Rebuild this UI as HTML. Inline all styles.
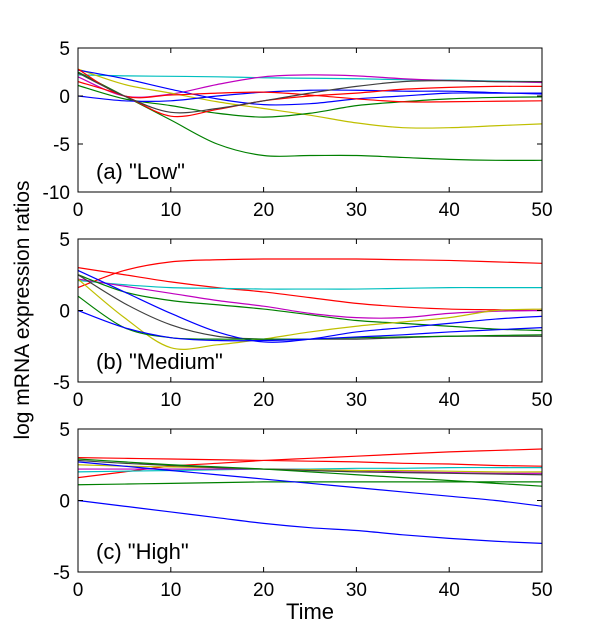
<!DOCTYPE html>
<html><head><meta charset="utf-8"><style>
body{margin:0;background:#fff;}
svg{display:block;font-family:"Liberation Sans",sans-serif;}
</style></head><body>
<svg id="chart" width="600" height="644"></svg>
<script>
const times=[0,5,10,15,20,25,30,35,40,45,50];
const xTicks=[0,10,20,30,40,50];
const panelLabels=['(a) "Low"','(b) "Medium"','(c) "High"'];
const yTicks1=[5,0,-5,-10], yTicks2=[5,0,-5], yTicks3=[5,0,-5];
const low=[
 ['#00bfbf',[2.2,2.1,2.05,2.0,1.9,1.85,1.8,1.7,1.65,1.55,1.5]],
 ['#bf00bf',[2.0,0.0,0.2,1.2,2.0,2.2,2.1,1.8,1.6,1.5,1.4]],
 ['#bfbf00',[2.8,1.2,0.3,-0.6,-1.3,-2.0,-2.8,-3.3,-3.3,-3.1,-2.9]],
 ['#008000',[2.5,0.0,-2.5,-5.0,-6.2,-6.2,-6.2,-6.4,-6.6,-6.7,-6.7]],
 ['#008000',[1.1,-0.3,-1.0,-1.8,-2.2,-1.8,-1.0,-0.6,-0.3,-0.15,-0.1]],
 ['#0000ff',[2.7,1.8,0.7,-0.3,-0.9,-0.8,-0.3,0.0,0.3,0.3,0.3]],
 ['#0000ff',[0.0,-0.5,-0.5,0.0,0.4,0.6,0.6,0.5,0.5,0.35,0.2]],
 ['#ff0000',[1.5,0.0,-2.1,-1.4,-0.5,0.0,0.3,0.7,0.9,1.0,1.0]],
 ['#ff0000',[2.8,0.0,0.1,0.3,0.4,0.1,-0.3,-0.6,-0.6,-0.55,-0.5]],
 ['#404040',[2.4,0.0,-1.7,-1.3,-0.5,0.3,1.0,1.5,1.6,1.5,1.5]]
];
const medium=[
 ['#ff0000',[1.6,2.8,3.4,3.55,3.6,3.6,3.6,3.55,3.5,3.4,3.3]],
 ['#ff0000',[3.0,2.5,2.0,1.6,1.3,0.9,0.5,0.25,0.1,0.05,0.0]],
 ['#00bfbf',[2.1,1.8,1.6,1.55,1.5,1.5,1.5,1.55,1.6,1.6,1.6]],
 ['#bf00bf',[2.2,1.7,1.2,0.7,0.3,-0.2,-0.5,-0.5,-0.2,-0.05,0.0]],
 ['#008000',[2.5,1.3,0.7,0.4,0.1,-0.3,-0.7,-0.9,-1.1,-1.3,-1.4]],
 ['#bfbf00',[2.2,-0.5,-2.6,-2.4,-2.0,-1.5,-1.1,-0.8,-0.5,0.0,0.1]],
 ['#404040',[2.5,0.5,-1.0,-1.8,-2.0,-2.0,-2.0,-1.9,-1.8,-1.8,-1.8]],
 ['#0000ff',[2.8,1.3,-0.2,-1.5,-2.2,-2.0,-1.5,-1.2,-0.9,-0.6,-0.4]],
 ['#008000',[1.0,-1.2,-1.9,-2.0,-2.0,-2.0,-1.9,-1.85,-1.8,-1.75,-1.7]],
 ['#0000ff',[0.0,-1.2,-1.9,-2.1,-2.1,-2.0,-1.85,-1.7,-1.5,-1.35,-1.2]]
];
const high=[
 ['#ff0000',[1.6,2.0,2.4,2.6,2.8,2.95,3.1,3.25,3.4,3.5,3.6]],
 ['#ff0000',[3.0,2.95,2.9,2.85,2.8,2.75,2.7,2.6,2.55,2.45,2.4]],
 ['#00bfbf',[2.0,2.05,2.1,2.15,2.2,2.2,2.25,2.25,2.3,2.3,2.3]],
 ['#bf00bf',[2.2,2.2,2.2,2.2,2.2,2.15,2.1,2.0,1.95,1.9,1.9]],
 ['#bfbf00',[2.5,2.4,2.35,2.3,2.2,2.15,2.1,2.1,2.05,2.0,2.0]],
 ['#404040',[2.8,2.6,2.45,2.3,2.2,2.1,2.0,1.95,1.9,1.85,1.8]],
 ['#008000',[2.9,2.7,2.5,2.35,2.2,2.0,1.8,1.6,1.4,1.2,1.0]],
 ['#008000',[1.1,1.15,1.2,1.25,1.3,1.3,1.3,1.3,1.3,1.3,1.3]],
 ['#0000ff',[2.7,2.4,2.1,1.8,1.5,1.2,0.9,0.6,0.3,0.0,-0.4]],
 ['#0000ff',[0.0,-0.4,-0.8,-1.2,-1.6,-1.9,-2.1,-2.4,-2.65,-2.85,-3.0]]
];
const NS='http://www.w3.org/2000/svg';
const svg=document.getElementById('chart');
function mk(t,a,p){const e=document.createElementNS(NS,t);for(const k in a)e.setAttribute(k,a[k]);(p||svg).appendChild(e);return e;}
const X0=78,X1=542;
const xs=v=>X0+(v-0)/50*(X1-X0);
const panels=[
 {top:48,bot:192,ymin:-10,ymax:5,ticks:yTicks1,data:low,name:'low'},
 {top:239,bot:382,ymin:-5,ymax:5,ticks:yTicks2,data:medium,name:'medium'},
 {top:429,bot:572,ymin:-5,ymax:5,ticks:yTicks3,data:high,name:'high'}
];
panels.forEach((p,pi)=>{
 const g=mk('g',{});
 
 
 const ys=v=>p.bot-(v-p.ymin)/(p.ymax-p.ymin)*(p.bot-p.top);
 const cp=mk('clipPath',{id:'c'+pi},g);
 mk('rect',{x:X0,y:p.top,width:X1-X0,height:p.bot-p.top},cp);
 p.data.forEach((s,si)=>{
  const pts=times.map((t,i)=>[xs(t),ys(s[1][i])]);
  let d='M'+pts[0][0]+','+pts[0][1];
  for(let i=0;i<pts.length-1;i++){
   const p0=pts[Math.max(i-1,0)],p1=pts[i],p2=pts[i+1],p3=pts[Math.min(i+2,pts.length-1)];
   d+=' C'+(p1[0]+(p2[0]-p0[0])/6)+','+(p1[1]+(p2[1]-p0[1])/6)+' '+(p2[0]-(p3[0]-p1[0])/6)+','+(p2[1]-(p3[1]-p1[1])/6)+' '+p2[0]+','+p2[1];
  }
  const path=mk('path',{d:d,fill:'none',stroke:s[0],'stroke-width':1.2,'clip-path':'url(#c'+pi+')'},g);
  
  
 });
 const fr=mk('rect',{x:X0,y:p.top,width:X1-X0,height:p.bot-p.top,fill:'none',stroke:'#000','stroke-width':1},g);
 
 
 xTicks.forEach(t=>{
  const x=xs(t);
  mk('line',{x1:x,x2:x,y1:p.bot,y2:p.bot-5,stroke:'#000'},g);
  mk('line',{x1:x,x2:x,y1:p.top,y2:p.top+5,stroke:'#000'},g);
  const tx=mk('text',{x:x,y:p.bot+24,'font-size':19,'text-anchor':'middle'},g);
  tx.textContent=t;
  
  
 });
 p.ticks.forEach(t=>{
  const y=ys(t);
  mk('line',{x1:X0,x2:X0+5,y1:y,y2:y,stroke:'#000'},g);
  mk('line',{x1:X1,x2:X1-5,y1:y,y2:y,stroke:'#000'},g);
  const tx=mk('text',{x:X0-8,y:y+7,'font-size':19,'text-anchor':'end'},g);
  tx.textContent=t;
  
  
 });
 const lb=mk('text',{x:X0+18,y:p.bot-13,'font-size':22},g);
 lb.textContent=panelLabels[pi];
 
 
});
const yl=mk('text',{x:0,y:0,'font-size':21,'text-anchor':'middle',transform:'translate(29,310) rotate(-90)'});
yl.textContent='log mRNA expression ratios';


const xl=mk('text',{x:310,y:619,'font-size':22,'text-anchor':'middle'});
xl.textContent='Time';


</script>
</body></html>
